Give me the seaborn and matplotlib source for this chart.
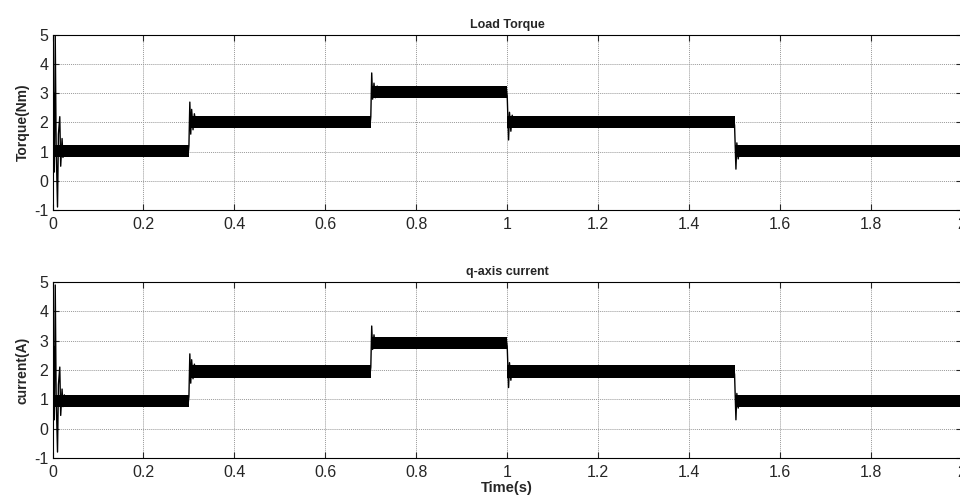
import numpy as np
import matplotlib
matplotlib.use("Agg")
import matplotlib.pyplot as plt
import seaborn as sns

# step changes of the load (s) and the steady levels between them
step_times = [0.0, 0.3, 0.7, 1.0, 1.5, 2.0]
torque_levels = [1.02, 2.03, 3.05, 2.03, 1.02]
current_levels = [0.95, 1.95, 2.92, 1.95, 0.95]
ripple = 0.21  # half width of the switching ripple band

# start-up and step transients (time, value)
torque_t = [
    [0.0, 0.003, 0.004, 0.006, 0.008, 0.011, 0.013, 0.016, 0.018, 0.021, 0.023, 0.026, 0.030],
    [0.298, 0.300, 0.302, 0.304, 0.306, 0.309, 0.312, 0.316, 0.320],
    [0.698, 0.700, 0.702, 0.704, 0.707, 0.710, 0.714, 0.718],
    [0.998, 1.000, 1.003, 1.005, 1.008, 1.011, 1.015, 1.019],
    [1.498, 1.500, 1.503, 1.505, 1.508, 1.512, 1.516, 1.520],
]
torque_v = [
    [0.0, 3.0, 0.3, 5.0, 1.2, -0.9, 1.6, 2.2, 0.5, 1.45, 0.8, 1.2, 0.9],
    [0.85, 1.2, 2.7, 1.6, 2.45, 1.75, 2.3, 1.85, 2.2],
    [1.85, 2.2, 3.7, 2.8, 3.35, 2.85, 3.25, 2.9],
    [3.2, 2.9, 1.4, 2.35, 1.7, 2.25, 1.85, 2.15],
    [2.15, 1.9, 0.4, 1.3, 0.75, 1.2, 0.85, 1.1],
]
current_t = torque_t
current_v = [
    [0.0, 2.8, 0.3, 4.9, 1.1, -0.8, 1.5, 2.1, 0.45, 1.35, 0.75, 1.15, 0.85],
    [0.8, 1.1, 2.55, 1.55, 2.35, 1.7, 2.2, 1.8, 2.1],
    [1.8, 2.1, 3.5, 2.7, 3.2, 2.75, 3.1, 2.8],
    [3.05, 2.8, 1.4, 2.25, 1.65, 2.15, 1.8, 2.1],
    [2.05, 1.85, 0.3, 1.2, 0.7, 1.1, 0.8, 1.05],
]

titles = ["Load Torque", "q-axis current"]
ylabels = ["Torque(Nm)", "current(A)"]
xticks = [0, 0.2, 0.4, 0.6, 0.8, 1, 1.2, 1.4, 1.6, 1.8, 2]
yticks = [-1, 0, 1, 2, 3, 4, 5]

sns.set_style("ticks")
plt.rcParams["font.family"] = ["Liberation Sans", "DejaVu Sans"]
plt.rcParams["axes.unicode_minus"] = False

fig = plt.figure(figsize=(9.6, 5.01), dpi=100)
ax_top = fig.add_axes([0.0547, 0.581, 0.9473, 0.349])
ax_bot = fig.add_axes([0.0547, 0.086, 0.9473, 0.351])


def draw_trace(ax, levels, tr_t, tr_v):
    # ripple band between the step changes
    bx, lo, hi = [], [], []
    for i, lvl in enumerate(levels):
        bx += [step_times[i], step_times[i + 1]]
        lo += [lvl - ripple, lvl - ripple]
        hi += [lvl + ripple, lvl + ripple]
    ax.fill_between(bx, lo, hi, color="black", linewidth=0)
    for tt, vv in zip(tr_t, tr_v):
        sns.lineplot(x=tt, y=vv, ax=ax, color="black", linewidth=1.0,
                     sort=False, estimator=None)


draw_trace(ax_top, torque_levels, torque_t, torque_v)
draw_trace(ax_bot, current_levels, current_t, current_v)

for ax, title, ylab in zip([ax_top, ax_bot], titles, ylabels):
    ax.set_xlim(0, 2)
    ax.set_ylim(-1, 5)
    ax.set_xticks(xticks)
    ax.set_xticklabels([f"{x:g}" for x in xticks])
    ax.set_yticks(yticks)
    ax.grid(True, linestyle=(0, (1, 1)), color="0.6", linewidth=0.7)
    ax.tick_params(direction="in", length=4, labelsize=11.5, pad=3,
                   top=True, right=True)
    ax.tick_params(axis="x", pad=5)
    for sp in ax.spines.values():
        sp.set_visible(True)
        sp.set_linewidth(0.8)
        sp.set_color("black")
    ax.set_title(title, fontsize=9, fontweight="bold", pad=5)
    ax.set_ylabel(ylab, fontsize=10, fontweight="bold", labelpad=3)

ax_bot.set_xlabel("Time(s)", fontsize=10.5, fontweight="bold", labelpad=1)

fig.savefig("out.png", dpi=100)
